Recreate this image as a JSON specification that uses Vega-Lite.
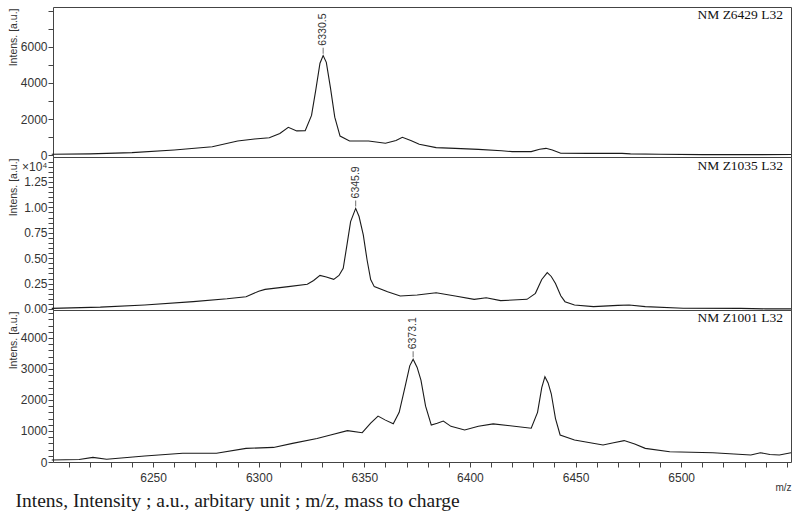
{
  "$schema": "https://vega.github.io/schema/vega-lite/v6.json",
  "padding": {"left": 7, "top": 4, "right": 9, "bottom": 2},
  "spacing": 0,
  "bounds": "flush",
  "title": {"text": "Intens, Intensity ; a.u., arbitary unit ; m/z, mass to charge", "orient": "bottom", "anchor": "start", "frame": "bounds", "dx": 8, "offset": -1, "font": "Liberation Serif", "fontSize": 19.5, "fontWeight": "normal", "color": "#1a1a1a"},
  "datasets": {
    "spectra": [
      {"panel": "A", "mz": 6202, "intensity": 40}, {"panel": "A", "mz": 6220, "intensity": 60}, {"panel": "A", "mz": 6240, "intensity": 130}, {"panel": "A", "mz": 6260, "intensity": 280}, {"panel": "A", "mz": 6278, "intensity": 460}, {"panel": "A", "mz": 6290, "intensity": 780}, {"panel": "A", "mz": 6298, "intensity": 890}, {"panel": "A", "mz": 6305, "intensity": 960}, {"panel": "A", "mz": 6310, "intensity": 1200}, {"panel": "A", "mz": 6314, "intensity": 1540}, {"panel": "A", "mz": 6318, "intensity": 1340}, {"panel": "A", "mz": 6322, "intensity": 1350}, {"panel": "A", "mz": 6325, "intensity": 2200}, {"panel": "A", "mz": 6327, "intensity": 3600}, {"panel": "A", "mz": 6329, "intensity": 5100}, {"panel": "A", "mz": 6330.5, "intensity": 5520}, {"panel": "A", "mz": 6332, "intensity": 5150}, {"panel": "A", "mz": 6334, "intensity": 3700}, {"panel": "A", "mz": 6336, "intensity": 2100}, {"panel": "A", "mz": 6338.5, "intensity": 1050}, {"panel": "A", "mz": 6343, "intensity": 780}, {"panel": "A", "mz": 6352, "intensity": 780}, {"panel": "A", "mz": 6360, "intensity": 650}, {"panel": "A", "mz": 6365, "intensity": 800}, {"panel": "A", "mz": 6368, "intensity": 980}, {"panel": "A", "mz": 6372, "intensity": 800}, {"panel": "A", "mz": 6376, "intensity": 600}, {"panel": "A", "mz": 6384, "intensity": 410}, {"panel": "A", "mz": 6393, "intensity": 370}, {"panel": "A", "mz": 6404, "intensity": 315}, {"panel": "A", "mz": 6415, "intensity": 240}, {"panel": "A", "mz": 6420, "intensity": 185}, {"panel": "A", "mz": 6429, "intensity": 190}, {"panel": "A", "mz": 6433, "intensity": 320}, {"panel": "A", "mz": 6436, "intensity": 370}, {"panel": "A", "mz": 6439, "intensity": 280}, {"panel": "A", "mz": 6443, "intensity": 100}, {"panel": "A", "mz": 6456, "intensity": 90}, {"panel": "A", "mz": 6472, "intensity": 90}, {"panel": "A", "mz": 6476, "intensity": 60}, {"panel": "A", "mz": 6490, "intensity": 40}, {"panel": "A", "mz": 6510, "intensity": 20}, {"panel": "A", "mz": 6530, "intensity": 20}, {"panel": "A", "mz": 6552, "intensity": 25},
      {"panel": "B", "mz": 6202, "intensity": 60}, {"panel": "B", "mz": 6225, "intensity": 180}, {"panel": "B", "mz": 6246, "intensity": 390}, {"panel": "B", "mz": 6269, "intensity": 720}, {"panel": "B", "mz": 6285, "intensity": 1000}, {"panel": "B", "mz": 6294, "intensity": 1210}, {"panel": "B", "mz": 6300, "intensity": 1750}, {"panel": "B", "mz": 6303, "intensity": 1930}, {"panel": "B", "mz": 6314, "intensity": 2200}, {"panel": "B", "mz": 6323, "intensity": 2430}, {"panel": "B", "mz": 6326, "intensity": 2800}, {"panel": "B", "mz": 6329, "intensity": 3310}, {"panel": "B", "mz": 6332, "intensity": 3150}, {"panel": "B", "mz": 6335.5, "intensity": 2920}, {"panel": "B", "mz": 6338, "intensity": 3300}, {"panel": "B", "mz": 6340, "intensity": 4000}, {"panel": "B", "mz": 6342, "intensity": 6600}, {"panel": "B", "mz": 6343.5, "intensity": 8600}, {"panel": "B", "mz": 6345.9, "intensity": 9900}, {"panel": "B", "mz": 6347.5, "intensity": 9100}, {"panel": "B", "mz": 6349.5, "intensity": 7300}, {"panel": "B", "mz": 6351.3, "intensity": 4820}, {"panel": "B", "mz": 6353, "intensity": 2900}, {"panel": "B", "mz": 6354.7, "intensity": 2200}, {"panel": "B", "mz": 6361, "intensity": 1700}, {"panel": "B", "mz": 6367, "intensity": 1280}, {"panel": "B", "mz": 6375, "intensity": 1380}, {"panel": "B", "mz": 6384, "intensity": 1600}, {"panel": "B", "mz": 6393, "intensity": 1280}, {"panel": "B", "mz": 6402, "intensity": 950}, {"panel": "B", "mz": 6407.7, "intensity": 1110}, {"panel": "B", "mz": 6414.5, "intensity": 820}, {"panel": "B", "mz": 6427, "intensity": 950}, {"panel": "B", "mz": 6431, "intensity": 1540}, {"panel": "B", "mz": 6434, "intensity": 2900}, {"panel": "B", "mz": 6436.6, "intensity": 3580}, {"panel": "B", "mz": 6438.5, "intensity": 3200}, {"panel": "B", "mz": 6440.5, "intensity": 2500}, {"panel": "B", "mz": 6443, "intensity": 1300}, {"panel": "B", "mz": 6445, "intensity": 720}, {"panel": "B", "mz": 6449.5, "intensity": 390}, {"panel": "B", "mz": 6458.5, "intensity": 230}, {"panel": "B", "mz": 6470, "intensity": 360}, {"panel": "B", "mz": 6475.4, "intensity": 390}, {"panel": "B", "mz": 6483, "intensity": 230}, {"panel": "B", "mz": 6501, "intensity": 70}, {"panel": "B", "mz": 6528, "intensity": 60}, {"panel": "B", "mz": 6540, "intensity": 10}, {"panel": "B", "mz": 6552, "intensity": 10},
      {"panel": "C", "mz": 6202, "intensity": 65}, {"panel": "C", "mz": 6215, "intensity": 80}, {"panel": "C", "mz": 6221.5, "intensity": 150}, {"panel": "C", "mz": 6228, "intensity": 90}, {"panel": "C", "mz": 6246, "intensity": 195}, {"panel": "C", "mz": 6264, "intensity": 280}, {"panel": "C", "mz": 6280, "intensity": 280}, {"panel": "C", "mz": 6294, "intensity": 440}, {"panel": "C", "mz": 6307, "intensity": 470}, {"panel": "C", "mz": 6316, "intensity": 600}, {"panel": "C", "mz": 6327.6, "intensity": 760}, {"panel": "C", "mz": 6334, "intensity": 870}, {"panel": "C", "mz": 6342, "intensity": 1010}, {"panel": "C", "mz": 6349, "intensity": 945}, {"panel": "C", "mz": 6353, "intensity": 1250}, {"panel": "C", "mz": 6356.5, "intensity": 1480}, {"panel": "C", "mz": 6360, "intensity": 1350}, {"panel": "C", "mz": 6363.7, "intensity": 1230}, {"panel": "C", "mz": 6366.5, "intensity": 1600}, {"panel": "C", "mz": 6369.3, "intensity": 2430}, {"panel": "C", "mz": 6371.5, "intensity": 3100}, {"panel": "C", "mz": 6373.1, "intensity": 3310}, {"panel": "C", "mz": 6375, "intensity": 3050}, {"panel": "C", "mz": 6376.8, "intensity": 2640}, {"panel": "C", "mz": 6379, "intensity": 1800}, {"panel": "C", "mz": 6381.7, "intensity": 1190}, {"panel": "C", "mz": 6384.5, "intensity": 1250}, {"panel": "C", "mz": 6387.4, "intensity": 1320}, {"panel": "C", "mz": 6391, "intensity": 1150}, {"panel": "C", "mz": 6397.5, "intensity": 1030}, {"panel": "C", "mz": 6404, "intensity": 1150}, {"panel": "C", "mz": 6411, "intensity": 1230}, {"panel": "C", "mz": 6420, "intensity": 1160}, {"panel": "C", "mz": 6429, "intensity": 1090}, {"panel": "C", "mz": 6432, "intensity": 1600}, {"panel": "C", "mz": 6434, "intensity": 2400}, {"panel": "C", "mz": 6435.5, "intensity": 2750}, {"panel": "C", "mz": 6437, "intensity": 2550}, {"panel": "C", "mz": 6438.5, "intensity": 2200}, {"panel": "C", "mz": 6440.5, "intensity": 1400}, {"panel": "C", "mz": 6442.7, "intensity": 870}, {"panel": "C", "mz": 6449.5, "intensity": 710}, {"panel": "C", "mz": 6463, "intensity": 550}, {"panel": "C", "mz": 6468, "intensity": 620}, {"panel": "C", "mz": 6473, "intensity": 690}, {"panel": "C", "mz": 6478, "intensity": 580}, {"panel": "C", "mz": 6483, "intensity": 440}, {"panel": "C", "mz": 6494.6, "intensity": 330}, {"panel": "C", "mz": 6515, "intensity": 300}, {"panel": "C", "mz": 6525, "intensity": 260}, {"panel": "C", "mz": 6533, "intensity": 225}, {"panel": "C", "mz": 6537.5, "intensity": 300}, {"panel": "C", "mz": 6542, "intensity": 240}, {"panel": "C", "mz": 6546.5, "intensity": 225}, {"panel": "C", "mz": 6552, "intensity": 300}
    ],
    "peaks": [
      {"panel": "A", "mz": 6330.5, "intensity": 5520, "label": "6330.5"},
      {"panel": "B", "mz": 6345.9, "intensity": 9900, "label": "6345.9"},
      {"panel": "C", "mz": 6373.1, "intensity": 3310, "label": "6373.1"}
    ]
  },
  "vconcat": [
    {
      "width": 738, "height": 150,
      "title": {"text": "NM Z6429 L32", "anchor": "end", "orient": "top", "frame": "group", "offset": -17, "dx": -8, "font": "Liberation Serif", "fontSize": 13.5, "fontWeight": "normal", "color": "#111"},
      "encoding": {
        "x": {"field": "mz", "type": "quantitative", "scale": {"domain": [6202.6, 6552], "nice": false, "zero": false}, "axis": null},
        "y": {"field": "intensity", "type": "quantitative", "scale": {"domain": [-111, 8222], "nice": false}, "axis": {"title": "Intens. [a.u.]", "values": [0, 1000, 2000, 3000, 4000, 5000, 6000, 7000, 8000], "format": "d", "labelOverlap": false, "labelExpr": "datum.value % 2000 === 0 && datum.value < 8000 ? datum.label : ''"}}
      },
      "layer": [
        {"data": {"name": "spectra"}, "transform": [{"filter": "datum.panel === 'A'"}], "mark": {"type": "line", "color": "#1a1a1a", "strokeWidth": 1.1}},
        {"data": {"name": "peaks"}, "transform": [{"filter": "datum.panel === 'A'"}], "mark": {"type": "tick", "orient": "vertical", "size": 6, "thickness": 1, "yOffset": -5, "color": "#333"}},
        {"data": {"name": "peaks"}, "transform": [{"filter": "datum.panel === 'A'"}], "mark": {"type": "text", "angle": 270, "align": "left", "baseline": "middle", "dx": 10, "font": "Liberation Sans", "fontSize": 10.5, "color": "#333"}, "encoding": {"text": {"field": "label"}}}
      ]
    },
    {
      "width": 738, "height": 153,
      "title": {"text": "NM Z1035 L32", "anchor": "end", "orient": "top", "frame": "group", "offset": -17, "dx": -8, "font": "Liberation Serif", "fontSize": 13.5, "fontWeight": "normal", "color": "#111"},
      "encoding": {
        "x": {"field": "mz", "type": "quantitative", "scale": {"domain": [6202.6, 6552], "nice": false, "zero": false}, "axis": null},
        "y": {"field": "intensity", "type": "quantitative", "scale": {"domain": [-100, 14960], "nice": false}, "axis": {"title": "Intens. [a.u.]", "values": [0, 500, 1000, 1500, 2000, 2500, 3000, 3500, 4000, 4500, 5000, 5500, 6000, 6500, 7000, 7500, 8000, 8500, 9000, 9500, 10000, 10500, 11000, 11500, 12000, 12500, 13000, 13500, 14000, 14500], "labelOverlap": false, "labelExpr": "datum.value === 14000 ? '×10⁴' : (datum.value % 2500 === 0 ? format(datum.value / 10000, '.2f') : '')"}}
      },
      "layer": [
        {"data": {"name": "spectra"}, "transform": [{"filter": "datum.panel === 'B'"}], "mark": {"type": "line", "color": "#1a1a1a", "strokeWidth": 1.1}},
        {"data": {"name": "peaks"}, "transform": [{"filter": "datum.panel === 'B'"}], "mark": {"type": "tick", "orient": "vertical", "size": 6, "thickness": 1, "yOffset": -5, "color": "#333"}},
        {"data": {"name": "peaks"}, "transform": [{"filter": "datum.panel === 'B'"}], "mark": {"type": "text", "angle": 270, "align": "left", "baseline": "middle", "dx": 10, "font": "Liberation Sans", "fontSize": 10.5, "color": "#333"}, "encoding": {"text": {"field": "label"}}}
      ]
    },
    {
      "width": 738, "height": 152,
      "title": {"text": "NM Z1001 L32", "anchor": "end", "orient": "top", "frame": "group", "offset": -17, "dx": -8, "font": "Liberation Serif", "fontSize": 13.5, "fontWeight": "normal", "color": "#111"},
      "encoding": {
        "x": {"field": "mz", "type": "quantitative", "scale": {"domain": [6202.6, 6552], "nice": false, "zero": false}, "axis": {"title": "m/z", "values": [6210, 6220, 6230, 6240, 6250, 6260, 6270, 6280, 6290, 6300, 6310, 6320, 6330, 6340, 6350, 6360, 6370, 6380, 6390, 6400, 6410, 6420, 6430, 6440, 6450, 6460, 6470, 6480, 6490, 6500, 6510, 6520, 6530, 6540, 6550], "format": "d", "labelOverlap": false, "labelFlush": false, "labelPadding": 5, "labelExpr": "datum.value % 50 === 0 && datum.value < 6550 ? datum.label : ''", "titleAnchor": "end", "titleAlign": "right", "titleFontSize": 10, "titlePadding": -1}},
        "y": {"field": "intensity", "type": "quantitative", "scale": {"domain": [0, 4900], "nice": false}, "axis": {"title": "Intens. [a.u.]", "values": [0, 200, 400, 600, 800, 1000, 1200, 1400, 1600, 1800, 2000, 2200, 2400, 2600, 2800, 3000, 3200, 3400, 3600, 3800, 4000, 4200, 4400, 4600, 4800], "format": "d", "labelOverlap": false, "labelExpr": "datum.value % 1000 === 0 ? datum.label : ''"}}
      },
      "layer": [
        {"data": {"name": "spectra"}, "transform": [{"filter": "datum.panel === 'C'"}], "mark": {"type": "line", "color": "#1a1a1a", "strokeWidth": 1.1}},
        {"data": {"name": "peaks"}, "transform": [{"filter": "datum.panel === 'C'"}], "mark": {"type": "tick", "orient": "vertical", "size": 6, "thickness": 1, "yOffset": -5, "color": "#333"}},
        {"data": {"name": "peaks"}, "transform": [{"filter": "datum.panel === 'C'"}], "mark": {"type": "text", "angle": 270, "align": "left", "baseline": "middle", "dx": 10, "font": "Liberation Sans", "fontSize": 10.5, "color": "#333"}, "encoding": {"text": {"field": "label"}}}
      ]
    }
  ],
  "config": {
    "background": "white",
    "view": {"stroke": "#444", "strokeWidth": 1},
    "axis": {"grid": false, "domain": false, "tickColor": "#444", "tickSize": 5, "labelFont": "Liberation Sans", "labelFontSize": 12, "labelColor": "#333", "labelPadding": 1, "labelOverlap": false, "labelFlush": false, "titleFont": "Liberation Sans", "titleFontWeight": "normal", "titleColor": "#333"},
    "axisY": {"titleFontSize": 10.5, "titleAnchor": "end", "titleX": -35, "titleY": 1, "titleBaseline": "bottom"}
  }
}
